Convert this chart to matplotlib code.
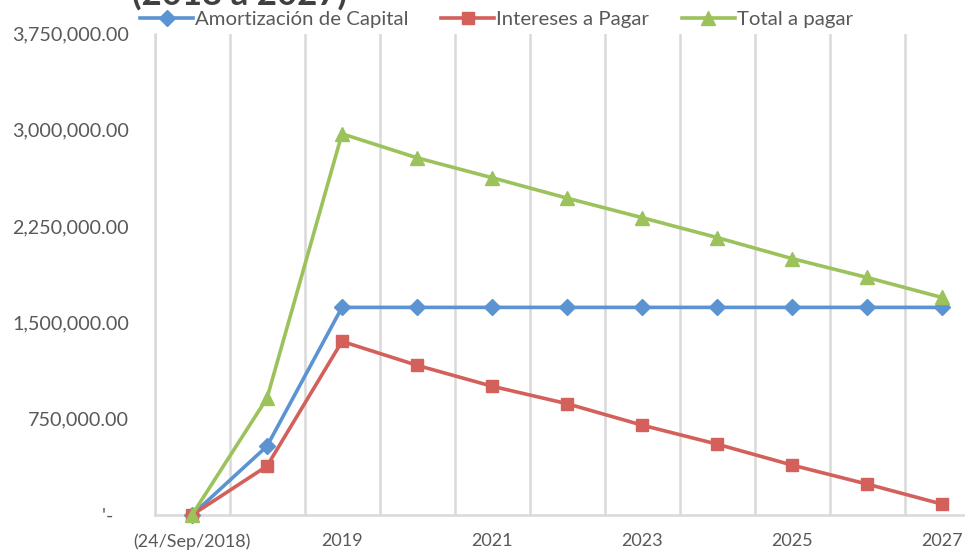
import numpy as np
import matplotlib
matplotlib.use('Agg')
import matplotlib.pyplot as plt
from matplotlib.ticker import FuncFormatter

plt.rcParams['font.family'] = ['Lato', 'DejaVu Sans']

# data
periods = ['(24/Sep/2018)', '2018', '2019', '2020', '2021', '2022',
           '2023', '2024', '2025', '2026', '2027']
amortizacion = [0, 536000, 1617000, 1617000, 1617000, 1617000,
                1617000, 1617000, 1617000, 1617000, 1617000]
intereses = [0, 381000, 1352000, 1166000, 1003000, 867000,
             700000, 552000, 389000, 241000, 85000]
total = [0, 910000, 2969000, 2782000, 2627000, 2468000,
         2316000, 2161000, 1997000, 1850000, 1694000]
y_ticks = [0, 750000, 1500000, 2250000, 3000000, 3750000]

W, H = 965, 552
fig = plt.figure(figsize=(W / 100, H / 100), dpi=100)

left, right = 154.5, 979.5
top, bottom = 33.5, 515
ax = fig.add_axes((left / W, 1 - bottom / H, (right - left) / W, (bottom - top) / H))

x = np.arange(len(periods))
grid_c = '#D9D9D9'
text_c = '#595959'

series = [
    (amortizacion, '#5B93D3', 'D', 8.0, 'Amortización de Capital'),
    (intereses, '#D3605A', 's', 8.5, 'Intereses a Pagar'),
    (total, '#9BC25B', '^', 9.5, 'Total a pagar'),
]
for vals, colour, marker, ms, label in series:
    ax.plot(x, vals, color=colour, lw=2.6, marker=marker, ms=ms,
            mec=colour, mfc=colour, label=label, zorder=3, clip_on=False)

ax.set_xlim(-0.5, len(periods) - 0.5)
ax.set_ylim(0, 3750000)

# category separators as vertical gridlines
ax.set_xticks(np.arange(-0.5, len(periods), 1.0), minor=True)
ax.grid(True, which='minor', axis='x', color=grid_c, lw=1.8)
ax.grid(False, which='major')
ax.tick_params(which='both', length=0)

ax.set_xticks(x)
ax.set_xticklabels([p if i % 2 == 0 else '' for i, p in enumerate(periods)],
                   fontsize=13, color=text_c)
ax.tick_params(axis='x', pad=13)

ax.set_yticks(y_ticks)
ax.yaxis.set_major_formatter(FuncFormatter(
    lambda v, pos: "'-   " if v == 0 else f'{v:,.2f}'))
ax.tick_params(axis='y', labelsize=14.2, labelcolor=text_c, pad=18.5)

for side in ['top', 'right']:
    ax.spines[side].set_visible(False)
ax.spines['left'].set_color(grid_c)
ax.spines['left'].set_linewidth(1.8)
ax.spines['bottom'].set_color(grid_c)
ax.spines['bottom'].set_linewidth(1.8)

leg = fig.legend(loc='center left', bbox_to_anchor=(140 / W, 1 - 19 / H), ncol=3,
                 frameon=False, fontsize=14.7, handlelength=2.6, handletextpad=0.1,
                 columnspacing=1.6, borderaxespad=0, borderpad=0)
for t in leg.get_texts():
    t.set_color(text_c)

# title, mostly cut off by the top edge
fig.text(132 / W, 1 - 5 / H, '(2018 a 2027)', fontsize=25, fontweight='bold',
         color='#404040', ha='left', va='baseline')

fig.savefig('out.png', dpi=100)
